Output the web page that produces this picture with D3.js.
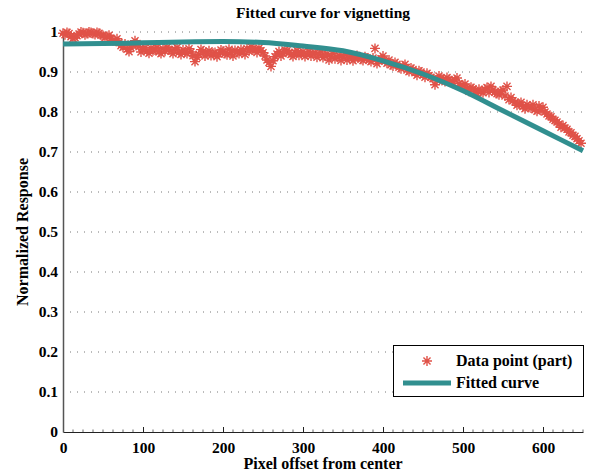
<!DOCTYPE html>
<html><head><meta charset="utf-8">
<script src="https://cdn.jsdelivr.net/npm/d3@7"></script>
<style>body{margin:0;background:#fff}svg{display:block}text{font-family:"Liberation Serif","Times New Roman",Times,serif;font-weight:bold;fill:#000}</style>
</head><body><svg id="c" width="590" height="474"></svg>
<script>
const pointX = [0,5,10,15,20,25,30,35,40,45,50,55,60,65,70,75,80,85,90,95,100,105,110,115,120,125,130,135,140,145,150,155,160,165,170,175,180,185,190,195,200,205,210,215,220,225,230,235,240,245,250,255,260,265,270,275,280,285,290,295,300,305,310,315,320,325,330,335,340,345,350,355,360,365,370,375,380,385,390,395,400,405,410,415,420,425,430,435,440,445,450,455,460,465,470,475,480,485,490,495,500,505,510,515,520,525,530,535,540,545,550,555,560,565,570,575,580,585,590,595,600,605,610,615,620,625,630,635,640,645];
const pointY = [0.997,0.999,0.988,0.986,0.995,0.998,0.996,0.999,0.994,0.997,0.991,0.989,0.984,0.979,0.974,0.962,0.957,0.960,0.978,0.963,0.956,0.952,0.960,0.955,0.950,0.958,0.962,0.953,0.957,0.949,0.955,0.946,0.950,0.926,0.944,0.952,0.947,0.941,0.949,0.945,0.952,0.943,0.948,0.954,0.946,0.951,0.958,0.963,0.956,0.960,0.948,0.930,0.914,0.938,0.951,0.946,0.953,0.944,0.949,0.942,0.951,0.945,0.940,0.948,0.943,0.936,0.945,0.939,0.933,0.941,0.937,0.930,0.940,0.934,0.938,0.929,0.935,0.926,0.959,0.928,0.940,0.922,0.918,0.924,0.912,0.915,0.905,0.910,0.898,0.903,0.894,0.897,0.887,0.868,0.890,0.882,0.886,0.878,0.880,0.871,0.866,0.859,0.862,0.852,0.857,0.848,0.861,0.864,0.850,0.843,0.855,0.864,0.836,0.825,0.820,0.814,0.818,0.810,0.806,0.815,0.812,0.795,0.788,0.779,0.770,0.766,0.757,0.748,0.739,0.728];
const pointX2 = [2.5,7.5,12.5,17.5,22.5,27.5,32.5,37.5,42.5,47.5,52.5,57.5,62.5,67.5,72.5,77.5,82.5,87.5,92.5,97.5,102.5,107.5,112.5,117.5,122.5,127.5,132.5,137.5,142.5,147.5,152.5,157.5,162.5,167.5,172.5,177.5,182.5,187.5,192.5,197.5,202.5,207.5,212.5,217.5,222.5,227.5,232.5,237.5,242.5,247.5,252.5,257.5,262.5,267.5,272.5,277.5,282.5,287.5,292.5,297.5,302.5,307.5,312.5,317.5,322.5,327.5,332.5,337.5,342.5,347.5,352.5,357.5,362.5,367.5,372.5,377.5,382.5,387.5,392.5,397.5,402.5,407.5,412.5,417.5,422.5,427.5,432.5,437.5,442.5,447.5,452.5,457.5,462.5,467.5,472.5,477.5,482.5,487.5,492.5,497.5,502.5,507.5,512.5,517.5,522.5,527.5,532.5,537.5,542.5,547.5,552.5,557.5,562.5,567.5,572.5,577.5,582.5,587.5,592.5,597.5,602.5,607.5,612.5,617.5,622.5,627.5,632.5,637.5,642.5,647.5];
const pointY2 = [0.993,0.996,0.984,0.991,1.000,0.993,1.000,0.996,0.999,0.992,0.986,0.992,0.978,0.983,0.966,0.970,0.951,0.967,0.971,0.950,0.961,0.947,0.953,0.962,0.946,0.952,0.955,0.946,0.961,0.944,0.950,0.958,0.941,0.937,0.956,0.940,0.953,0.947,0.938,0.955,0.946,0.957,0.940,0.949,0.956,0.944,0.952,0.955,0.949,0.953,0.940,0.924,0.928,0.945,0.940,0.955,0.948,0.939,0.954,0.946,0.939,0.952,0.946,0.937,0.950,0.942,0.930,0.946,0.938,0.929,0.943,0.936,0.928,0.941,0.932,0.938,0.930,0.935,0.921,0.933,0.927,0.930,0.915,0.919,0.908,0.919,0.901,0.906,0.892,0.900,0.887,0.891,0.883,0.879,0.884,0.876,0.881,0.872,0.885,0.865,0.870,0.852,0.858,0.846,0.851,0.857,0.849,0.855,0.846,0.852,0.840,0.831,0.828,0.817,0.824,0.808,0.812,0.818,0.802,0.804,0.800,0.790,0.782,0.775,0.762,0.760,0.750,0.742,0.733,0.722];
const fitX = [0,50,100,150,200,250,300,350,400,450,500,550,600,650];
const fitY = [0.970,0.971,0.973,0.975,0.976,0.974,0.965,0.953,0.928,0.895,0.853,0.803,0.753,0.703];
const xTicks = [0,100,200,300,400,500,600];
const yTicks = [0,0.1,0.2,0.3,0.4,0.5,0.6,0.7,0.8,0.9,1];
const yTickLabels = ["0","0.1","0.2","0.3","0.4","0.5","0.6","0.7","0.8","0.9","1"];
const legendLabels = ["Data point (part)","Fitted curve"];

const RED = "#e05248", TEAL = "#318f8f";
const FONT = '"Liberation Serif","Times New Roman",Times,serif';
const svg = d3.select("#c");
const x = d3.scaleLinear().domain([0,650]).range([63,583]);
const y = d3.scaleLinear().domain([0,1]).range([432,32]);

// grid
svg.append("g").selectAll("line").data(yTicks.filter(d=>d>0)).join("line")
  .attr("x1",x(0)).attr("x2",x(650)).attr("y1",d=>y(d)).attr("y2",d=>y(d))
  .attr("stroke","#777").attr("stroke-width",1).attr("stroke-dasharray","1,6");

// axes
const xAxis = d3.axisBottom(x).tickValues(xTicks).tickFormat(d3.format("d")).tickSizeInner(-5).tickSizeOuter(0).tickPadding(10);
const gx = svg.append("g").attr("transform",`translate(0,${y(0)})`).call(xAxis).attr("font-family",FONT);
gx.select(".domain").attr("stroke","#222");
gx.selectAll(".tick line").attr("stroke","#222");
gx.selectAll("text").attr("font-size",15.5).attr("font-weight","bold").attr("fill","#000");
svg.append("g").selectAll("line").data(d3.range(0,651,12.5).filter(d=>d%100!==0)).join("line")
  .attr("x1",d=>x(d)).attr("x2",d=>x(d)).attr("y1",y(0)).attr("y2",y(0)-2.5).attr("stroke","#444").attr("stroke-width",0.8);

const yAxis = d3.axisLeft(y).tickValues(yTicks).tickFormat((d,i)=>yTickLabels[i]).tickSizeInner(0).tickSizeOuter(0).tickPadding(5);
const gy = svg.append("g").attr("transform",`translate(${x(0)},0)`).call(yAxis).attr("font-family",FONT);
gy.select(".domain").attr("stroke","#555").attr("stroke-width",1.5);
gy.selectAll("text").attr("font-size",15.5).attr("font-weight","bold").attr("fill","#000");

function star(g, cx, cy, r){
  const a = r*0.707;
  const p = `M${cx-r},${cy}L${cx+r},${cy}M${cx},${cy-r}L${cx},${cy+r}M${cx-a},${cy-a}L${cx+a},${cy+a}M${cx-a},${cy+a}L${cx+a},${cy-a}`;
  g.append("path").attr("d",p).attr("stroke",RED).attr("stroke-width",1.4).attr("fill","none");
}
const pts = svg.append("g");
pointX.forEach((px,i)=>star(pts, x(px), y(pointY[i]), 5));
pointX2.forEach((px,i)=>star(pts, x(px), y(pointY2[i]), 5));

const line = d3.line().x((d,i)=>x(fitX[i])).y((d,i)=>y(fitY[i])).curve(d3.curveMonotoneX);
svg.append("path").datum(fitY).attr("d",line).attr("fill","none").attr("stroke",TEAL).attr("stroke-width",5);

svg.append("text").attr("x",323).attr("y",18).attr("text-anchor","middle").attr("font-size",15.5).text("Fitted curve for vignetting");
svg.append("text").attr("x",323).attr("y",469).attr("text-anchor","middle").attr("font-size",16).text("Pixel offset from center");
svg.append("text").attr("transform","translate(28,232) rotate(-90)").attr("text-anchor","middle").attr("font-size",16).text("Normalized Response");

const lg = svg.append("g");
lg.append("rect").attr("x",393.5).attr("y",345.5).attr("width",190).attr("height",51).attr("fill","#fff").attr("stroke","#000").attr("stroke-width",1);
star(lg, 427, 361, 5);
lg.append("line").attr("x1",403).attr("x2",451).attr("y1",383).attr("y2",383).attr("stroke",TEAL).attr("stroke-width",5);
lg.selectAll("text.l").data(legendLabels).join("text").attr("class","l")
  .attr("x",456).attr("y",(d,i)=>[366,388][i]).attr("font-size",16).text(d=>d);
</script></body></html>
